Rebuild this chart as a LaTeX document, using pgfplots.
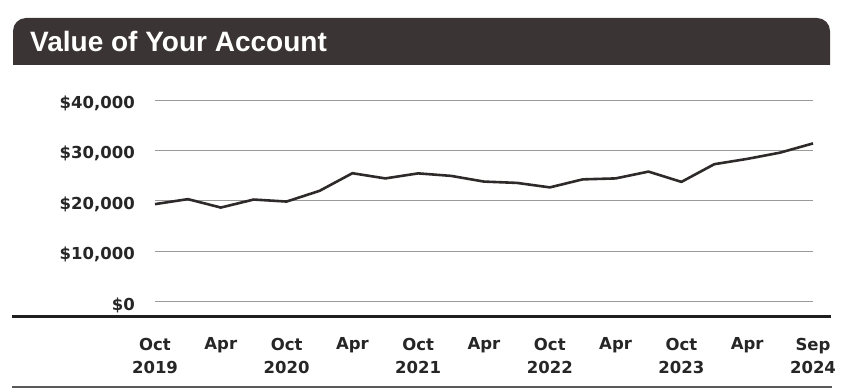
\documentclass[border=0pt]{standalone}
\usepackage{pgfplots}
\pgfplotsset{compat=1.18}
\usepackage{fontspec}
\setmainfont{Liberation Sans}
\newfontfamily\tickfont{DejaVu Sans}
\definecolor{banner}{HTML}{3B3434}
\definecolor{lineclr}{HTML}{2E2A2A}
\definecolor{gridclr}{HTML}{9A9A9A}
\pgfplotstableread{
t v
0.0 19350
0.5 20340
1.0 18670
1.5 20260
2.0 19860
2.5 21980
3.0 25480
3.5 24450
4.0 25450
4.5 24950
5.0 23820
5.5 23560
6.0 22670
6.5 24260
7.0 24450
7.5 25800
8.0 23760
8.5 27270
9.0 28320
9.5 29560
10.0 31390
}\acct
\begin{document}
\begin{tikzpicture}
\path (0,0) rectangle (848bp,389bp);
% banner
\begin{scope}
\clip (0,324bp) rectangle (848bp,389bp);
\fill[banner, rounded corners=13bp] (13bp,300bp) rectangle (830bp,371bp);
\end{scope}
\node[anchor=base west, inner sep=0pt, text=white, font=\bfseries\fontsize{28bp}{32bp}\selectfont] at (30bp,337bp) {Value of Your Account};
% rules
\draw[line width=3.5bp, color=black!88] (12bp,72.3bp) -- (831bp,72.3bp);
\draw[line width=2bp, color=black!65] (12bp,2bp) -- (832bp,2bp);
\begin{axis}[
  at={(155bp,87.3bp)}, anchor=south west,
  scale only axis, width=658bp, height=201.7bp,
  xmin=0, xmax=10, ymin=0, ymax=40000,
  axis line style={draw=none},
  major tick length=0pt,
  scaled y ticks=false,
  ymajorgrids, grid style={gridclr, line width=1bp},
  ytick={0,10000,20000,30000,40000},
  yticklabels={{\$0},{\$10,000},{\$20,000},{\$30,000},{\$40,000}},
  yticklabel style={font=\tickfont\bfseries\fontsize{16.5bp}{18bp}\selectfont, anchor=east, inner sep=0pt, xshift=-20bp, yshift=-3.5bp, text=black!85},
  xtick={0,1,2,3,4,5,6,7,8,9,10},
  xticklabels={{Oct\\2019},Apr,{Oct\\2020},Apr,{Oct\\2021},Apr,{Oct\\2022},Apr,{Oct\\2023},Apr,{Sep\\2024}},
  xticklabel style={font=\tickfont\bfseries\fontsize{16.5bp}{23bp}\selectfont, align=center, anchor=north, inner sep=0pt, yshift=-36bp, text=black!85},
  clip=false,
]
\addplot[lineclr, line width=2.6bp, line join=round, mark=none] table[x=t, y=v] {\acct};
\end{axis}
\end{tikzpicture}
\end{document}
